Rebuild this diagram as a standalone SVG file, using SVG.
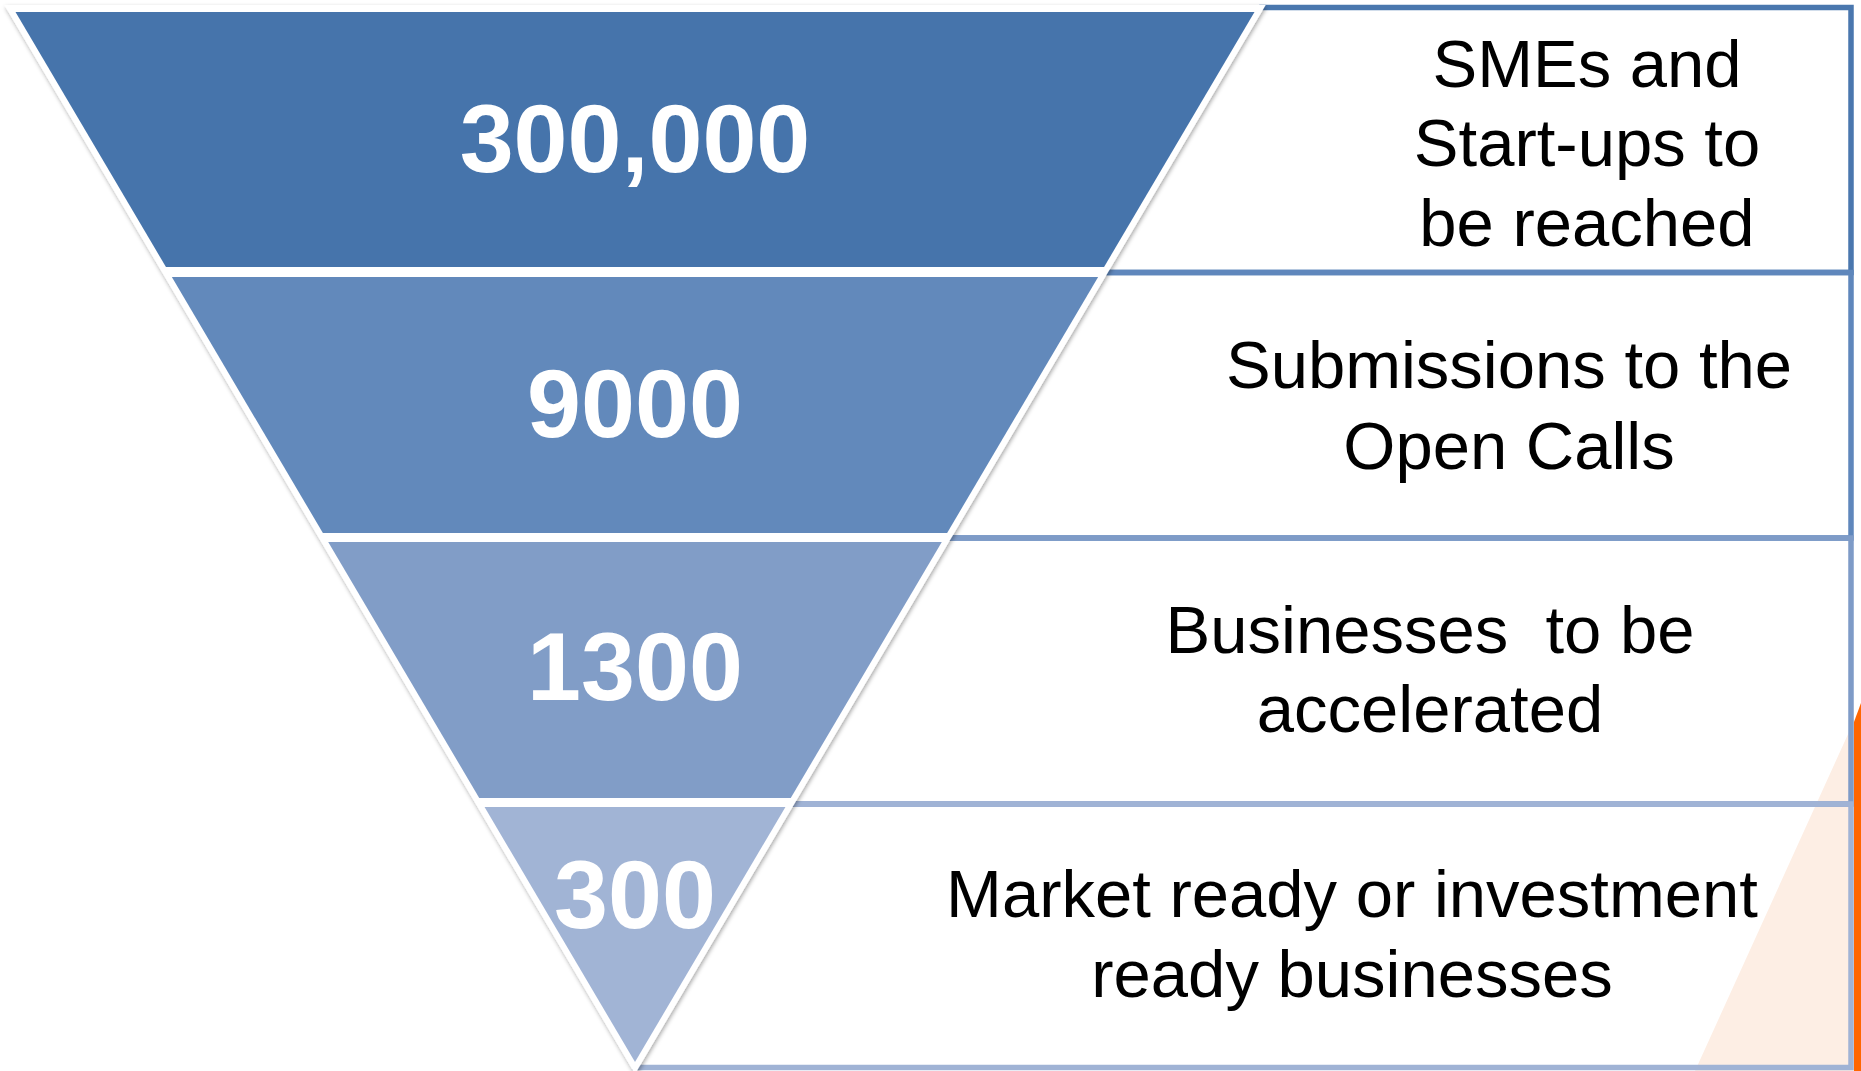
<svg xmlns="http://www.w3.org/2000/svg" width="1861" height="1071" viewBox="0 0 1861 1071">
  <style>
    .num { font-family: "Liberation Sans", Arial, sans-serif; font-weight: bold; font-size: 97px; fill: #FFFFFF; text-anchor: middle; }
    .lbl { font-family: "Liberation Sans", Arial, sans-serif; font-size: 67px; fill: #000000; text-anchor: middle; }
    .box { fill: none; stroke-width: 5.5; stroke-linecap: square; stroke-linejoin: miter; }
  </style>
  <defs>
    <filter id="shadow" x="-5%" y="-5%" width="110%" height="110%">
      <feDropShadow dx="1" dy="2" stdDeviation="2" flood-color="#000000" flood-opacity="0.35"/>
    </filter>
  </defs>
  <rect x="0" y="0" width="1861" height="1071" fill="#FFFFFF"/>

  <!-- background decoration at right edge -->
  <polygon points="1854,721 1861,705 1861,1071 1695,1071" fill="#FDEEE4"/>
  <polygon points="1854,722 1861,703 1861,1071 1854,1071" fill="#FF6600"/>

  <!-- label boxes (connectors group) -->
  <g id="connectors">
    <path class="box" stroke="#4A77AE" d="M 1262,7.5 H 1851 V 272.5 H 1105"/>
    <path class="box" stroke="#5F87BC" d="M 400,272.5 H 1851 V 538 H 400"/>
    <path class="box" stroke="#7E9BC7" d="M 600,538 H 1851 V 804 H 600"/>
    <path class="box" stroke="#A0B3D5" d="M 635,804 H 1851 V 1067.5 H 635"/>
  </g>

  <!-- funnel white outline with shadow -->
  <polygon points="4.3,5 1265.7,5 635,1073.9" fill="#FFFFFF" filter="url(#shadow)"/>

  <g id="tier1">
    <polygon points="15.5,12 1254.5,12 1104.05,267 165.95,267" fill="#4674AB"/>
    <text class="num" x="635" y="172">300,000</text>
  </g>
  <g id="tier2">
    <polygon points="171.85,277 1098.15,277 947.11,533 322.89,533" fill="#6289BB"/>
    <text class="num" x="635" y="437">9000</text>
  </g>
  <g id="tier3">
    <polygon points="328.2,542 941.8,542 790.76,798 479.24,798" fill="#819DC7"/>
    <text class="num" x="635" y="700">1300</text>
  </g>
  <g id="tier4">
    <polygon points="484.55,807 785.45,807 635,1062" fill="#A1B4D5"/>
    <text class="num" x="635" y="928">300</text>
  </g>

  <g id="label1">
    <text class="lbl" x="1587" y="87">SMEs and</text>
    <text class="lbl" x="1587" y="166">Start-ups to</text>
    <text class="lbl" x="1587" y="246">be reached</text>
  </g>
  <g id="label2">
    <text class="lbl" x="1509" y="388">Submissions to the</text>
    <text class="lbl" x="1509" y="469">Open Calls</text>
  </g>
  <g id="label3">
    <text class="lbl" x="1430" y="653" xml:space="preserve">Businesses  to be</text>
    <text class="lbl" x="1430" y="732">accelerated</text>
  </g>
  <g id="label4">
    <text class="lbl" x="1352" y="917">Market ready or investment</text>
    <text class="lbl" x="1352" y="997">ready businesses</text>
  </g>
</svg>
